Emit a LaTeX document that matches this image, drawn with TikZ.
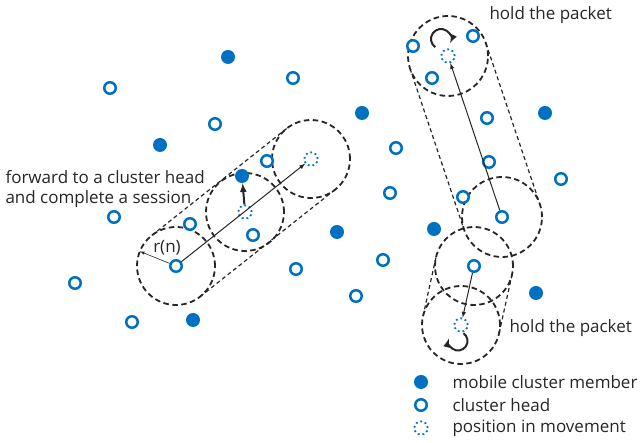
\documentclass[tikz,border=0pt]{standalone}
\usepackage{fontspec}
\setmainfont{Open Sans}
\usetikzlibrary{arrows}
\usetikzlibrary{calc}
\definecolor{nodeblue}{RGB}{0,112,192}
\definecolor{ink}{RGB}{38,38,38}
\pgfdeclarelayer{bg}
\pgfsetlayers{bg,main}

\begin{document}
\begin{tikzpicture}[x=1pt,y=1pt,>=latex,
  member/.style={circle,fill=nodeblue,minimum size=14pt,inner sep=0pt},
  head/.style={circle,draw=nodeblue,fill=white,line width=2.5pt,minimum size=11.5pt,inner sep=0pt},
  moving/.style={circle,draw=nodeblue,line width=1.8pt,dash pattern=on 1.8pt off 2.85pt,minimum size=13.3pt,inner sep=0pt},
  radio/.style={draw=ink,line width=1.8pt,dash pattern=on 5.5pt off 3.5pt},
  tube/.style={draw=ink,line width=1.2pt,dash pattern=on 4pt off 3pt},
  hop/.style={->,draw=ink,line width=1pt},
  spin/.style={->,draw=ink,line width=2pt},
  lbl/.style={text=ink,font=\fontsize{17}{20}\selectfont}]
\useasboundingbox (0,0) rectangle (642,443);

% mobile cluster members
\node[member] (m1) at (228,386) {};
\node[member] (m2) at (160,298) {};
\node[member] (m3) at (362,330) {};
\node[member] (m4) at (545,330) {};
\node[member] (m5) at (337,211) {};
\node[member] (m6) at (434,214) {};
\node[member] (m7) at (193,123) {};
\node[member] (m8) at (536,150) {};
\node[member] (m9) at (242,267) {};

% cluster heads
\node[head] (h0) at (176,177) {};
\node[head] (h1) at (110,355) {};
\node[head] (h2) at (293,365) {};
\node[head] (h3) at (215,319) {};
\node[head] (h4) at (396,295) {};
\node[head] (h5) at (267,282) {};
\node[head] (h6) at (114,226) {};
\node[head] (h7) at (190,219) {};
\node[head] (h8) at (253,208) {};
\node[head] (h9) at (75,160) {};
\node[head] (h10) at (296,174) {};
\node[head] (h11) at (383,183) {};
\node[head] (h12) at (356,147) {};
\node[head] (h13) at (132,121) {};
\node[head] (h14) at (413,397) {};
\node[head] (h15) at (473,407) {};
\node[head] (h16) at (432,365) {};
\node[head] (h17) at (487,325) {};
\node[head] (h18) at (489,281) {};
\node[head] (h19) at (561,264) {};
\node[head] (h20) at (463,246) {};
\node[head] (h21) at (390,250) {};
\node[head] (hR) at (502,226) {};
\node[head] (hL) at (474,177) {};

% positions in movement
\node[moving] (p1) at (245,231) {};
\node[moving] (p2) at (311,284) {};
\node[moving] (p3) at (448,387) {};
\node[moving] (p4) at (461,118) {};

% transmission ranges
\begin{pgfonlayer}{bg}
\draw[radio] (h0) circle (39pt);
\draw[radio] (p1) circle (39pt);
\draw[radio] (p2) circle (39pt);
\draw[tube] ($(h0)!39pt!90:(p2)$) -- ($(p2)!39pt!-90:(h0)$);
\draw[tube] ($(h0)!39pt!-90:(p2)$) -- ($(p2)!39pt!90:(h0)$);

\draw[radio] (p3) circle (40pt);
\draw[radio] (hR) circle (40pt);
\draw[tube] ($(p3)!40pt!90:(hR)$) -- ($(hR)!40pt!-90:(p3)$);
\draw[tube] ($(p3)!40pt!-90:(hR)$) -- ($(hR)!40pt!90:(p3)$);

\draw[radio] (hL) circle (39pt);
\draw[radio] (p4) circle (39pt);
\draw[tube] ($(hL)!39pt!90:(p4)$) -- ($(p4)!39pt!-90:(hL)$);
\draw[tube] ($(hL)!39pt!-90:(p4)$) -- ($(p4)!39pt!90:(hL)$);
\end{pgfonlayer}

% movements
\draw[hop] (h0) -- (p2);
\draw[->,draw=ink,line width=2pt] (p1) -- (m9);
\draw[hop] (hR) -- (p3);
\draw[hop] (hL) -- (p4);
\coordinate (rn) at ($(h0)+(158:39pt)$);
\draw[->,draw=ink,line width=0.6pt] (h0) -- (rn);
\node[lbl,anchor=base] (rlabel) at (167,190) {r(n)};

% holding loops
\coordinate (loopT) at (441,404);
\coordinate (loopB) at (458,102);
\draw[spin] ($(loopT)+(235:10pt)$) arc[start angle=235, end angle=-25, radius=10pt];
\draw[spin] ($(loopB)+(55:9.5pt)$) arc[start angle=55, end angle=-195, radius=9.5pt];

\node[lbl,anchor=base west] (holdT) at (486,423) {hold the packet};
\node[lbl,anchor=base west] (holdB) at (506,110) {hold the packet};
\node[lbl,anchor=west,align=left] (fwd) at (2,254) {forward to a cluster head\\and complete a session};

% legend
\node[member] (lgm) at (421,61) {};
\node[head] (lgh) at (421,38) {};
\node[moving] (lgp) at (421,15) {};
\node[lbl,anchor=west] at (449,61) {mobile cluster member};
\node[lbl,anchor=west] at (449,38) {cluster head};
\node[lbl,anchor=west] at (449,15) {position in movement};
\end{tikzpicture}
\end{document}
